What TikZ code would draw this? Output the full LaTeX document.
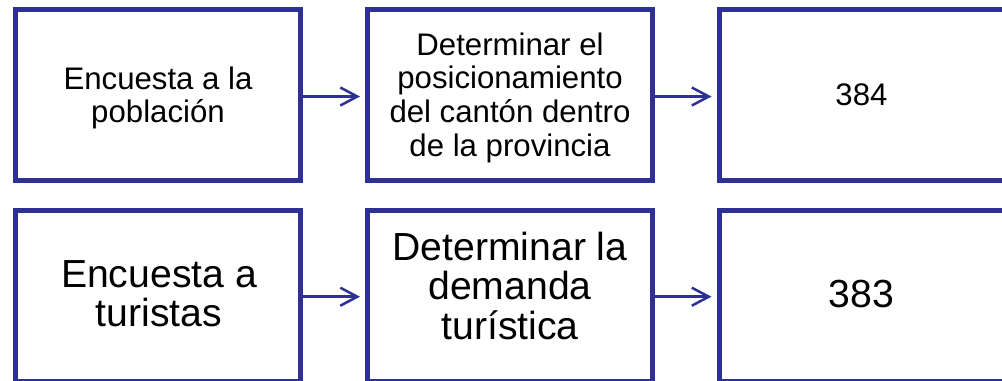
\documentclass[tikz,border=0pt]{standalone}
\usepackage{fontspec}
\setmainfont{Liberation Sans}
\usetikzlibrary{arrows.meta}
\definecolor{navy}{RGB}{46,49,146}
\tikzset{
  box/.style={draw=navy, line width=5bp, minimum width=285bp, minimum height=171bp, inner sep=0pt, outer sep=0pt},
  smalltext/.style={font=\fontsize{31.3}{33.8}\selectfont, align=center, inner sep=0pt, text=black},
  bigtext/.style={font=\fontsize{39.3}{39.5}\selectfont, align=center, inner sep=0pt, text=black},
  conn/.style={draw=navy, line width=2.5bp, -{Straight Barb[length=17bp, width=18bp]}, shorten >=7.5bp}
}
\begin{document}
\begin{tikzpicture}[x=1bp, y=-1bp]
\useasboundingbox (0,0) rectangle (1002,380);
\fill[white] (0,0) rectangle (1002,380);
\clip (0,0) rectangle (1002,380);
% row 1
\node[box] (b1) at (158,95) {};
\node[box] (b2) at (510,95) {};
\node[box] (b3) at (861.5,95) {};
% row 2
\node[box] (b4) at (158,296) {};
\node[box] (b5) at (510,296) {};
\node[box] (b6) at (861.5,296) {};
% texts
\node[smalltext] (t1) at (158,97.9) {Encuesta a la\\población};
\node[smalltext] (t2) at (510,97.5) {Determinar el\\posicionamiento\\del cantón dentro\\de la provincia};
\node[smalltext] (t3) at (861.5,95) {384};
\node[bigtext] (t4) at (159,293.8) {Encuesta a\\turistas};
\node[bigtext] (t5) at (510,285.8) {Determinar la\\demanda\\turística};
\node[bigtext] (t6) at (861.5,293.8) {383};
% connectors
\draw[conn] ([yshift=-1.5bp]b1.east) -- ([yshift=-1.5bp]b2.west);
\draw[conn] ([yshift=-1.5bp]b2.east) -- ([yshift=-1.5bp]b3.west);
\draw[conn] ([yshift=-0.7bp]b4.east) -- ([yshift=-0.7bp]b5.west);
\draw[conn] ([yshift=-0.7bp]b5.east) -- ([yshift=-0.7bp]b6.west);
\end{tikzpicture}
\end{document}
